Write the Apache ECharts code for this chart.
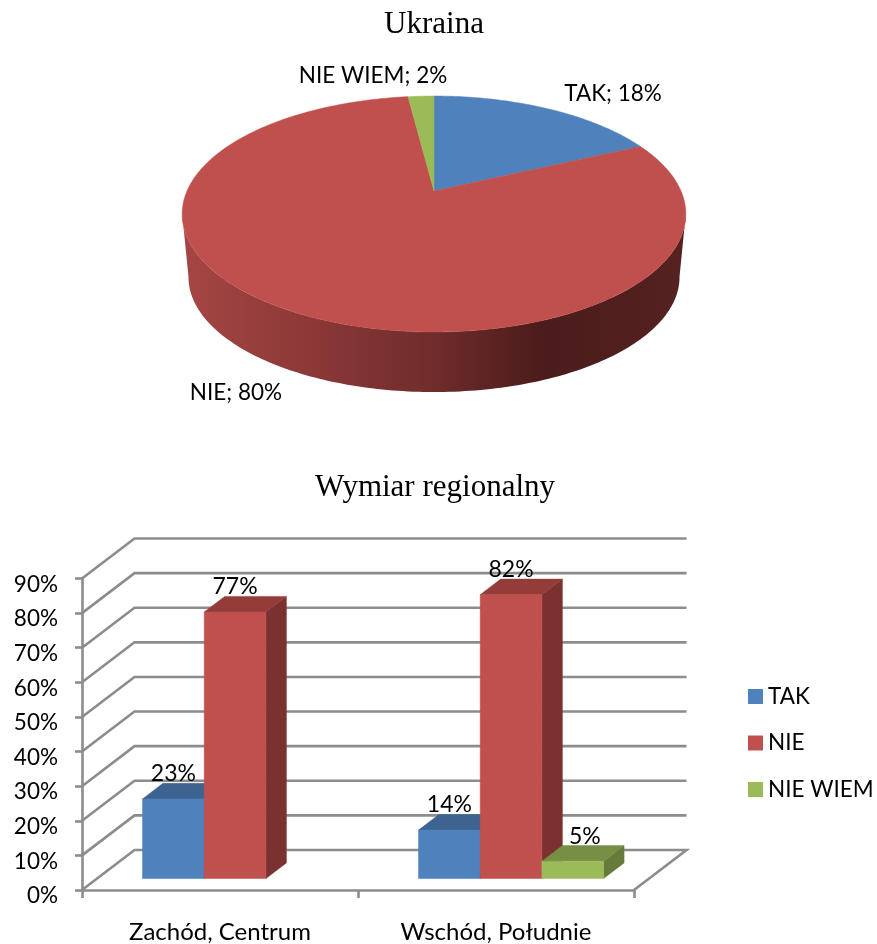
<!DOCTYPE html>
<html>
<head>
<meta charset="utf-8">
<style>html,body{margin:0;padding:0;background:#fff}#c{width:877px;height:944px}</style>
<script src="https://cdn.jsdelivr.net/npm/echarts@6/dist/echarts.min.js"></script>
</head>
<body>
<div id="c"></div>
<script>
const titleUkraina = 'Ukraina';
const titleRegional = 'Wymiar regionalny';
const answers = ['TAK', 'NIE', 'NIE WIEM'];
const pieValues = [18, 80, 2];
const categories = ['Zachód, Centrum', 'Wschód, Południe'];
const takValues = [23, 14];
const nieValues = [77, 82];
const nieWiemValues = [null, 5];
const valueTicks = [0, 10, 20, 30, 40, 50, 60, 70, 80, 90];

const FONT = 'Lato, "Open Sans", sans-serif';
const SERIF = '"Liberation Serif", serif';
const faces = {
  TAK: {front: '#4F81BD', top: '#3D6390', side: '#36587F'},
  NIE: {front: '#C0504D', top: '#933C3A', side: '#7A3130'},
  'NIE WIEM': {front: '#9BBB59', top: '#778F45', side: '#667B3A'}
};

/* 3D pie projection */
const P = {cx: 434, apexY: 191, a: 247, b: 113.5, k: 0.195, topEllipseY: 214, baseEllipseY: 277, baseScale: 0.975};
function rimTop(t) {
  const u = Math.sin(t), v = Math.cos(t), d = 1 + P.k * v;
  return [P.cx + P.a * u / d, P.apexY - P.b * v / d];
}
function rimBase(t) {
  const p = rimTop(t);
  return [P.cx + P.baseScale * (p[0] - P.cx), P.baseEllipseY + P.baseScale * (p[1] - P.topEllipseY)];
}
const DEG = Math.PI / 180;
const VISIBLE_FROM = 101, VISIBLE_TO = 259;
const pieLabelPos = {TAK: [613, 94], NIE: [236, 393], 'NIE WIEM': [373, 76]};
const sideGradient = () => new echarts.graphic.LinearGradient(0, 0, 1, 0, [
  {offset: 0, color: '#A54644'}, {offset: 0.25, color: '#8C3937'},
  {offset: 0.5, color: '#6F2C2B'}, {offset: 0.72, color: '#4A1C1B'}, {offset: 1, color: '#552220'}
]);
function renderPie(params, api) {
  const i = params.dataIndex;
  const name = answers[i];
  const before = pieValues.slice(0, i).reduce((a, b) => a + b, 0);
  const total = pieValues.reduce((a, b) => a + b, 0);
  const a0 = before / total * 360, a1 = a0 + api.value(0) / total * 360;
  const children = [];
  const s0 = Math.max(a0, VISIBLE_FROM), s1 = Math.min(a1, VISIBLE_TO);
  if (s1 > s0) {
    const pts = [], back = [];
    for (let a = s0; a <= s1; a += 1) { pts.push(rimTop(a * DEG)); back.unshift(rimBase(a * DEG)); }
    children.push({type: 'polygon', shape: {points: pts.concat(back)}, style: {fill: sideGradient()}});
  }
  const pts = [[P.cx, P.apexY]];
  for (let a = a0; a < a1; a += 1) pts.push(rimTop(a * DEG));
  pts.push(rimTop(a1 * DEG));
  children.push({type: 'polygon', shape: {points: pts},
    style: {fill: faces[name].front, stroke: faces[name].front, lineWidth: 0.5}});
  const lp = pieLabelPos[name];
  children.push({type: 'text', style: {text: name + '; ' + api.value(0) + '%', x: lp[0], y: lp[1],
    align: 'center', verticalAlign: 'middle', font: '22.5px ' + FONT, fill: '#000'}});
  return {type: 'group', children};
}

/* 3D column projection */
const WALL_DX = 52.5, WALL_DY = 40;
const BAR_START = 0.287, BAR_DEPTH = 0.39;
const BAR_W = 61.7;
function renderWall(params, api) {
  const cs = params.coordSys;
  const v = api.value(0);
  const y = api.coord([0, v])[1];
  const L = cs.x, R = cs.x + cs.width;
  const pts = [[L, y], [L + WALL_DX, y - WALL_DY], [R + WALL_DX, y - WALL_DY]];
  if (v === 0) pts.push([R, y]);
  return {type: 'polyline', shape: {points: pts},
    style: {stroke: '#8C8C8C', lineWidth: 2.6, fill: 'none'}, silent: true};
}
function barRenderer(idx, name, labelShift) {
  return function (params, api) {
    const cat = api.value(0), val = api.value(1);
    if (val == null || isNaN(val)) return null;
    const c = api.coord([cat, val]), b = api.coord([cat, 0]);
    const sx = WALL_DX * BAR_START, sy = WALL_DY * BAR_START;
    const dx = WALL_DX * BAR_DEPTH, dy = WALL_DY * BAR_DEPTH;
    const x0 = c[0] + (idx - 1.5) * BAR_W + sx, x1 = x0 + BAR_W;
    const yT = c[1] - sy, yB = b[1] - sy;
    const f = faces[name];
    const poly = (points, fill) => ({type: 'polygon', shape: {points}, style: {fill, stroke: fill, lineWidth: 0.5}});
    return {type: 'group', children: [
      poly([[x1, yT], [x1 + dx, yT - dy], [x1 + dx, yB - dy], [x1, yB]], f.side),
      poly([[x0, yT], [x0 + dx, yT - dy], [x1 + dx, yT - dy], [x1, yT]], f.top),
      poly([[x0, yT], [x1, yT], [x1, yB], [x0, yB]], f.front),
      {type: 'text', style: {text: val + '%', x: (x0 + x1) / 2 + labelShift, y: yT - 25,
        align: 'center', verticalAlign: 'middle', font: '23px ' + FONT, fill: '#000'}}
    ]};
  };
}
const barSeries = (idx, name, values, labelShift) => ({
  type: 'custom', name, coordinateSystem: 'cartesian2d', clip: false, z: 3 + idx,
  itemStyle: {color: faces[name].front},
  renderItem: barRenderer(idx, name, labelShift),
  encode: {x: 0, y: 1},
  data: values.map((v, i) => [i, v])
});

const axisGray = {color: '#8C8C8C', width: 2.6};
const chart = echarts.init(document.getElementById('c'), null, {renderer: 'canvas'});
chart.setOption({
  animation: false,
  backgroundColor: '#fff',
  title: [
    {text: titleUkraina, left: 429, top: 20, textAlign: 'center', textVerticalAlign: 'middle',
      textStyle: {fontFamily: SERIF, fontSize: 31, fontWeight: 'normal', color: '#000'}},
    {text: titleRegional, left: 430, top: 483, textAlign: 'center', textVerticalAlign: 'middle',
      textStyle: {fontFamily: SERIF, fontSize: 31, fontWeight: 'normal', color: '#000'}}
  ],
  legend: {
    orient: 'vertical', left: 743, top: 680, itemWidth: 15, itemHeight: 15, itemGap: 23.5,
    icon: 'rect', data: answers,
    textStyle: {fontFamily: FONT, fontSize: 22.5, color: '#000'}
  },
  grid: {left: 82, top: 578.5, width: 552, height: 313},
  xAxis: {
    type: 'category', data: categories,
    axisLine: {lineStyle: axisGray},
    axisTick: {show: true, length: 8, lineStyle: axisGray},
    axisLabel: {margin: 30, fontFamily: FONT, fontSize: 24, color: '#000'},
    splitLine: {show: false}
  },
  yAxis: {
    type: 'value', min: 0, max: 90, interval: 10,
    axisLine: {show: true, lineStyle: axisGray},
    axisTick: {show: true, length: 7, lineStyle: axisGray},
    axisLabel: {margin: 24, fontFamily: FONT, fontSize: 22.5, color: '#000', formatter: '{value}%',
      lineHeight: 22, align: 'right', verticalAlign: 'top', padding: [-5, 0, 0, 0]},
    splitLine: {show: false}
  },
  series: [
    {type: 'custom', name: 'Ukraina', coordinateSystem: 'none', renderItem: renderPie, z: 2,
      data: pieValues.map((v, i) => ({name: answers[i], value: [v]}))},
    {type: 'custom', name: 'walls', coordinateSystem: 'cartesian2d', clip: false, z: 1, silent: true,
      renderItem: renderWall, encode: {y: 0}, data: valueTicks.map(v => [v])},
    barSeries(0, 'TAK', takValues, 0),
    barSeries(1, 'NIE', nieValues, 0),
    barSeries(2, 'NIE WIEM', nieWiemValues, 12)
  ]
});
</script>
</body>
</html>
